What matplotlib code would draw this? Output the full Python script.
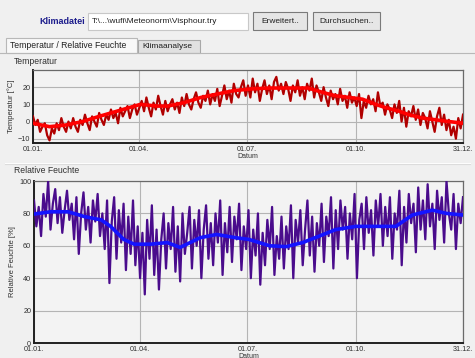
import matplotlib.pyplot as plt
from matplotlib.patches import Rectangle
from matplotlib.lines import Line2D
import numpy as np

plt.rcParams['font.family'] = ['Liberation Sans', 'DejaVu Sans']

# x positions (day of year) for the raw series, every 2 days
days = np.arange(0, 365, 2)

# temperature [°C], every 2 days (month by month)
temp = [3, -2, 1, -6, -3, -1, -8, -11, -4, -7, -1, -5, 2, -3, -6, 0,
        -4, 2, -3, -6, 1, -2, 4, -1, -5, 3, 0, -3, 5, 1,
        -2, 4, 1, 7, 2, 5, -1, 8, 3, 6, 9, 2, 7, 10, 4, 8,
        12, 6, 14, 8, 3, 11, 7, 15, 9, 4, 12, 6, 10, 13, 7,
        11, 5, 14, 9, 16, 10, 7, 13, 17, 11, 8, 15, 12, 18, 10,
        16, 12, 19, 9, 15, 21, 13, 18, 11, 22, 16, 14, 20, 24, 15,
        21, 14, 25, 17, 22, 12, 19, 24, 16, 21, 13, 23, 26, 18, 22,
        16, 23, 19, 12, 21, 17, 24, 15, 20, 13, 22, 18, 25, 14, 21,
        17, 12, 20, 14, 9, 18, 13, 16, 10, 19, 12, 15, 8, 17, 11,
        14, 9, 16, 2, 12, 8, 15, 10, 13, 6, 17, 9, 11, 4, 10,
        7, 2, 10, 5, 12, 0, 8, -3, 6, 3, 9, 1, 7, -2, 5,
        2, -4, 6, 0, -6, 3, 8, -2, 4, -5, 1, -8, -3, -10, 2, -4, 4]

# relative humidity [%]
rh = [88, 72, 84, 66, 92, 78, 100, 70, 86, 95, 74, 90, 68, 82, 94, 76,
      86, 64, 90, 55, 80, 93, 70, 84, 62, 88, 75, 92, 66, 80,
      58, 88, 37, 75, 90, 52, 82, 62, 86, 45, 78, 55, 88, 48, 72, 40,
      68, 30, 76, 52, 85, 42, 70, 33, 64, 80, 46, 74, 58, 84, 44,
      72, 38, 80, 55, 68, 84, 46, 76, 60, 82, 40, 70, 85, 52, 74,
      48, 80, 62, 88, 42, 74, 56, 84, 50, 78, 64, 86, 45, 72, 58,
      82, 40, 70, 54, 80, 36, 68, 48, 76, 58, 84, 42, 66, 52, 78,
      46, 72, 58, 85, 40, 76, 62, 82, 48, 70, 88, 54, 78, 44, 74,
      60, 86, 50, 78, 66, 90, 46, 82, 58, 88, 70, 84, 52, 80, 64,
      92, 40, 76, 86, 58, 90, 68, 82, 54, 88, 72, 92, 60, 84, 66,
      90, 52, 80, 70, 94, 48, 84, 62, 92, 74, 86, 56, 96, 70, 88,
      64, 98, 72, 86, 58, 94, 76, 90, 62, 100, 80, 70, 92, 58, 86, 74, 90]

# smoothed (moving average) curves
temp_avg_days = [0, 14, 28, 42, 56, 71, 91, 105, 114, 128, 142, 156, 170, 185,
                 200, 215, 233, 245, 256, 268, 279, 290, 299, 310, 318, 330,
                 341, 352, 364]
temp_avg = [-1, -3, -2, 0, 3, 6, 10, 9, 9, 11, 14, 16, 18, 19,
            19.5, 19.5, 19.5, 17, 15, 14, 13, 10, 8, 6, 4, 2,
            1, 0, -1]

rh_avg_days = [0, 14, 29, 43, 57, 65, 76, 85, 99, 113, 124, 141, 155, 171,
               182, 200, 214, 228, 242, 256, 273, 290, 307, 321, 338, 350, 364]
rh_avg = [79.6, 81, 81, 78, 76, 72, 64, 61, 61, 62, 59, 65, 67, 65,
          64, 60, 59.5, 62, 66, 70, 72, 72, 72, 79, 82, 80, 79]

tick_days = [0, 90, 181, 273, 364]
tick_labels = ['01.01.', '01.04.', '01.07.', '01.10.', '31.12.']

W, H = 475, 358


def fx(x):
    return x / W


def fy(y):
    return 1 - y / H


def box(fig, x0, y0, x1, y1, fc, ec, lw=0.8):
    fig.patches.append(Rectangle((fx(x0), fy(y1)), (x1 - x0) / W, (y1 - y0) / H,
                                 transform=fig.transFigure, fc=fc, ec=ec, lw=lw))


def hline(fig, y, x0, x1, color):
    fig.lines.append(Line2D([fx(x0), fx(x1)], [fy(y), fy(y)],
                            transform=fig.transFigure, color=color, lw=0.8))


fig = plt.figure(figsize=(4.75, 3.58), dpi=100, facecolor='#f0f0f0')

# top bar: file selector
fig.text(fx(85), fy(21.5), 'Klimadatei', ha='right', va='center',
         fontsize=6.5, fontweight='bold', color='#1c1c8c')
box(fig, 88, 13, 248, 30, 'white', '#c8c8c8')
fig.text(fx(92), fy(21.5), r'T:\...\wufi\Meteonorm\Visphour.try', ha='left',
         va='center', fontsize=6, color='#202020')
box(fig, 253, 12, 307, 30, '#e6e6e6', '#7a7a7a')
fig.text(fx(280), fy(21.5), 'Erweitert..', ha='center', va='center',
         fontsize=6, color='#202020')
box(fig, 313, 12, 380, 30, '#e6e6e6', '#7a7a7a')
fig.text(fx(346.5), fy(21.5), 'Durchsuchen..', ha='center', va='center',
         fontsize=6, color='#202020')

# tabs
hline(fig, 53, 0, W, '#b8b8b8')
box(fig, 6, 38, 137, 53, '#f8f8f8', '#b8b8b8')
box(fig, 138, 40, 200, 53, '#e1e1e1', '#a8a8a8')
fig.text(fx(10), fy(46), 'Temperatur / Relative Feuchte', ha='left',
         va='center', fontsize=6.2, color='#202020')
fig.text(fx(142), fy(47), 'Klimaanalyse', ha='left', va='center',
         fontsize=6, color='#202020')

# section headers and separator
fig.text(fx(14), fy(62), 'Temperatur', ha='left', va='center',
         fontsize=6.2, color='#303030')
hline(fig, 163, 5, 470, '#ffffff')
hline(fig, 164, 5, 470, '#dcdcdc')
fig.text(fx(14), fy(170.5), 'Relative Feuchte', ha='left', va='center',
         fontsize=6.2, color='#303030')

ax1 = fig.add_axes([fx(33), fy(143), (463 - 33) / W, (143 - 70) / H])
ax2 = fig.add_axes([fx(34), fy(343), (463 - 34) / W, (343 - 181) / H])

ax1.plot(days, temp, color='#b00000', lw=1.6, zorder=3)
ax1.plot(temp_avg_days, temp_avg, color='#ff0000', lw=2.6, zorder=4)
ax1.set_ylim(-12.5, 30)
ax1.set_yticks([-10, 0, 10, 20])
ax1.set_ylabel('Temperatur [°C]', fontsize=5.5, labelpad=2, color='#303030')

ax2.plot(days, rh, color='#4a0c8c', lw=1.6, zorder=3)
ax2.plot(rh_avg_days, rh_avg, color='#1414ff', lw=2.6, zorder=4)
ax2.set_ylim(0, 100)
ax2.set_yticks([0, 20, 40, 60, 80, 100])
ax2.set_ylabel('Relative Feuchte [%]', fontsize=5.5, labelpad=2, color='#303030')

for ax in (ax1, ax2):
    ax.set_facecolor('#f3f3f3')
    ax.set_xlim(0, 364)
    ax.set_xticks(tick_days)
    ax.set_xticklabels(tick_labels)
    ax.set_xlabel('Datum', fontsize=5, labelpad=0, color='#303030')
    ax.tick_params(length=0, pad=2, labelsize=5.2, labelcolor='#303030')
    ax.grid(True, color='#b4b4b4', lw=0.8)
    ax.set_axisbelow(True)
    for s in ('left', 'bottom'):
        ax.spines[s].set_color('#202020')
        ax.spines[s].set_linewidth(1.4)
    for s in ('top', 'right'):
        ax.spines[s].set_color('#6a6a6a')
        ax.spines[s].set_linewidth(0.9)

fig.savefig('out.png', dpi=100, facecolor=fig.get_facecolor())
